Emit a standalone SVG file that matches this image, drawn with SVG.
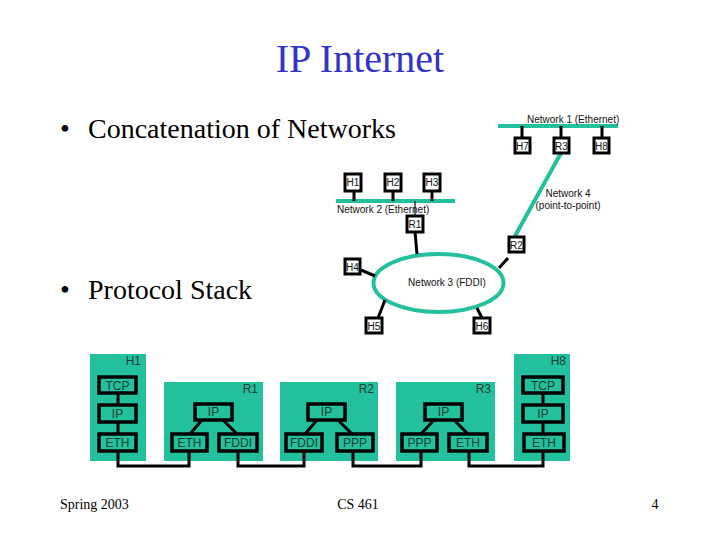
<svg xmlns="http://www.w3.org/2000/svg" width="720" height="540" viewBox="0 0 720 540">
<style>
.serif{font-family:"Liberation Serif","Times New Roman",serif;fill:#000}
.lbl{font-family:"Liberation Sans",Arial,sans-serif;font-size:10px;fill:#111}
.nb{fill:#fff;stroke:#000;stroke-width:3}
.nt{font-family:"Liberation Sans",Arial,sans-serif;font-size:10px;fill:#111;text-anchor:middle}
.net{stroke:#22c09c;stroke-width:4;fill:none}
.blk{stroke:#000;stroke-width:3;fill:none}
.thin{stroke:#000;stroke-width:1.2;fill:none}
.panel{fill:#22c09c}
.sb{fill:#22c09c;stroke:#000;stroke-width:3.5}
.st{font-family:"Liberation Sans",Arial,sans-serif;font-size:12px;fill:#1d3d33;text-anchor:middle}
.pl{font-family:"Liberation Sans",Arial,sans-serif;font-size:12px;fill:#1d3d33;text-anchor:end}
</style>
<rect width="720" height="540" fill="#fff"/>
<text x="360" y="72" text-anchor="middle" font-family="Liberation Serif, serif" font-size="40" fill="#3333cc">IP Internet</text>
<text class="serif" x="60" y="138" font-size="28">•</text>
<text class="serif" x="88" y="138" font-size="28">Concatenation of Networks</text>
<text class="serif" x="60" y="299" font-size="28">•</text>
<text class="serif" x="88" y="299" font-size="28">Protocol Stack</text>

<g id="connectors">
<line class="net" x1="498" y1="126" x2="618" y2="126"/>
<line class="net" x1="336" y1="201" x2="455" y2="201"/>
<line class="net" x1="561" y1="153" x2="515" y2="236"/>
<ellipse class="net" cx="438.5" cy="283" rx="65" ry="29"/>
<line class="blk" x1="522" y1="126" x2="522" y2="138"/>
<line class="blk" x1="561" y1="126" x2="561" y2="138"/>
<line class="blk" x1="602" y1="126" x2="602" y2="138"/>
<line class="blk" x1="354" y1="191" x2="354" y2="201"/>
<line class="blk" x1="393" y1="191" x2="393" y2="201"/>
<line class="blk" x1="432" y1="191" x2="432" y2="201"/>
<line class="thin" x1="415" y1="201" x2="415" y2="216"/>
<line class="blk" x1="415" y1="232" x2="417" y2="254"/>
<line class="blk" x1="508" y1="258" x2="499" y2="268"/>
<line class="blk" x1="361" y1="270" x2="375" y2="276"/>
<line class="blk" x1="378" y1="318" x2="385" y2="300"/>
<line class="blk" x1="482" y1="318" x2="477" y2="308"/>
</g>
<text class="lbl" x="527" y="123">Network 1 (Ethernet)</text>
<text class="lbl" x="337" y="213">Network 2 (Ethernet)</text>
<text class="lbl" x="568" y="197" text-anchor="middle">Network 4</text>
<text class="lbl" x="568" y="209" text-anchor="middle">(point-to-point)</text>
<text class="lbl" x="447" y="286" text-anchor="middle">Network 3 (FDDI)</text>

<g id="H7"><rect class="nb" x="515" y="138" width="15" height="15"/><text class="nt" x="522.5" y="149.5">H7</text></g>
<g id="R3"><rect class="nb" x="554" y="138" width="15" height="15"/><text class="nt" x="561.5" y="149.5">R3</text></g>
<g id="H8"><rect class="nb" x="594" y="138" width="15" height="15"/><text class="nt" x="601.5" y="149.5">H8</text></g>
<g id="H1"><rect class="nb" x="345" y="174" width="16" height="17"/><text class="nt" x="353" y="186">H1</text></g>
<g id="H2"><rect class="nb" x="385" y="174" width="16" height="17"/><text class="nt" x="393" y="186">H2</text></g>
<g id="H3"><rect class="nb" x="424" y="174" width="16" height="17"/><text class="nt" x="432" y="186">H3</text></g>
<g id="R1"><rect class="nb" x="407" y="216" width="16" height="16"/><text class="nt" x="415" y="228">R1</text></g>
<g id="R2"><rect class="nb" x="509" y="237" width="15" height="15"/><text class="nt" x="516.5" y="248.5">R2</text></g>
<g id="H4"><rect class="nb" x="345" y="259" width="15" height="15"/><text class="nt" x="352.5" y="270.5">H4</text></g>
<g id="H5"><rect class="nb" x="366" y="318" width="16" height="15"/><text class="nt" x="374" y="329.5">H5</text></g>
<g id="H6"><rect class="nb" x="474" y="318" width="16" height="15"/><text class="nt" x="482" y="329.5">H6</text></g>

<g id="stack-H1">
<rect class="panel" x="90" y="354" width="56" height="107"/>
<text class="pl" x="141" y="365">H1</text>
<line class="blk" x1="118" y1="393" x2="118" y2="434"/>
<rect class="sb" x="99" y="377" width="37" height="16"/><text class="st" x="117.5" y="390">TCP</text>
<rect class="sb" x="99" y="405" width="37" height="17"/><text class="st" x="117.5" y="418">IP</text>
<rect class="sb" x="99" y="434" width="37" height="17"/><text class="st" x="117.5" y="447">ETH</text>
</g>
<g id="stack-R1">
<rect class="panel" x="164" y="382" width="99" height="79"/>
<text class="pl" x="258" y="393">R1</text>
<line class="blk" x1="202" y1="420" x2="190" y2="434"/>
<line class="blk" x1="223" y1="420" x2="237" y2="434"/>
<rect class="sb" x="195" y="404" width="37" height="16"/><text class="st" x="213.5" y="416">IP</text>
<rect class="sb" x="172" y="434" width="35" height="17"/><text class="st" x="189.5" y="447">ETH</text>
<rect class="sb" x="219" y="434" width="38" height="17"/><text class="st" x="238" y="447">FDDI</text>
</g>
<g id="stack-R2">
<rect class="panel" x="280" y="382" width="98" height="79"/>
<text class="pl" x="374" y="393">R2</text>
<line class="blk" x1="317" y1="420" x2="305" y2="434"/>
<line class="blk" x1="338" y1="420" x2="352" y2="434"/>
<rect class="sb" x="308" y="404" width="37" height="16"/><text class="st" x="326.5" y="416">IP</text>
<rect class="sb" x="286" y="434" width="36" height="17"/><text class="st" x="304" y="447">FDDI</text>
<rect class="sb" x="337" y="434" width="36" height="17"/><text class="st" x="355" y="447">PPP</text>
</g>
<g id="stack-R3">
<rect class="panel" x="396" y="382" width="99" height="79"/>
<text class="pl" x="491" y="393">R3</text>
<line class="blk" x1="434" y1="420" x2="421" y2="434"/>
<line class="blk" x1="454" y1="420" x2="468" y2="434"/>
<rect class="sb" x="425" y="404" width="37" height="16"/><text class="st" x="443.5" y="416">IP</text>
<rect class="sb" x="402" y="434" width="35" height="17"/><text class="st" x="419.5" y="447">PPP</text>
<rect class="sb" x="449" y="434" width="38" height="17"/><text class="st" x="468" y="447">ETH</text>
</g>
<g id="stack-H8">
<rect class="panel" x="514" y="354" width="56" height="107"/>
<text class="pl" x="566" y="365">H8</text>
<line class="blk" x1="543" y1="393" x2="543" y2="434"/>
<rect class="sb" x="523" y="377" width="40" height="16"/><text class="st" x="543" y="390">TCP</text>
<rect class="sb" x="523" y="405" width="40" height="17"/><text class="st" x="543" y="418">IP</text>
<rect class="sb" x="524" y="434" width="40" height="17"/><text class="st" x="544" y="447">ETH</text>
</g>
<g id="stack-links">
<polyline class="blk" points="118,451 118,466 189,466 189,451"/>
<polyline class="blk" points="238,451 238,466 304,466 304,451"/>
<polyline class="blk" points="353,451 353,466 421,466 421,451"/>
<polyline class="blk" points="469,451 469,466 543,466 543,451"/>
</g>

<text class="serif" x="60" y="509" font-size="14">Spring 2003</text>
<text class="serif" x="358" y="509" font-size="14" text-anchor="middle">CS 461</text>
<text class="serif" x="655" y="509" font-size="14" text-anchor="middle">4</text>
</svg>
